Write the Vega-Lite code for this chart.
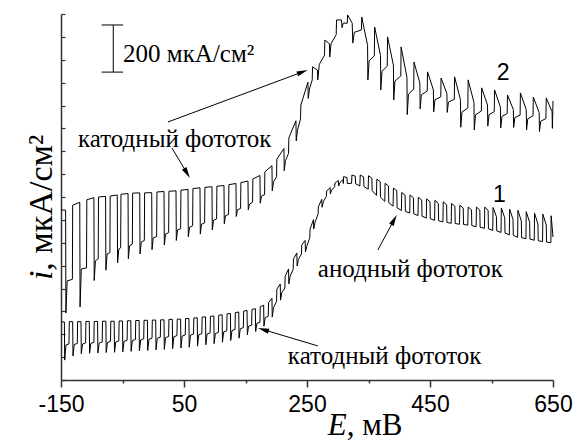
{
"$schema":"https://vega.github.io/schema/vega-lite/v6.json",
"width":492,"height":366,
"autosize":{"type":"none"},
"padding":{"left":61,"top":14,"right":23,"bottom":61},
"background":"white",
"config":{"view":{"stroke":null}},
"datasets":{
"c1":[
{"x":-150,"y":254},{"x":-144.5,"y":254},{"x":-144,"y":87},{"x":-142,"y":153},{"x":-137,"y":158},
{"x":-136.5,"y":255},{"x":-131,"y":255},{"x":-130.5,"y":105},{"x":-128.5,"y":155},{"x":-123.5,"y":160},
{"x":-123,"y":255},{"x":-117.5,"y":255},{"x":-117,"y":115},{"x":-115,"y":157},{"x":-110,"y":162},
{"x":-109.5,"y":256},{"x":-104,"y":256},{"x":-103.5,"y":117},{"x":-101.5,"y":160},{"x":-96.5,"y":165},
{"x":-96,"y":256},{"x":-90.5,"y":256},{"x":-90,"y":118},{"x":-88,"y":161},{"x":-83,"y":166},
{"x":-82.5,"y":257},{"x":-77,"y":257},{"x":-76.5,"y":120},{"x":-74.5,"y":164},{"x":-69.5,"y":169},
{"x":-69,"y":257},{"x":-63.5,"y":257},{"x":-63,"y":121},{"x":-61,"y":166},{"x":-56,"y":171},
{"x":-55.5,"y":258},{"x":-50,"y":258},{"x":-49.5,"y":123},{"x":-47.5,"y":169},{"x":-42.5,"y":174},
{"x":-42,"y":259},{"x":-36.5,"y":259},{"x":-36,"y":125},{"x":-34,"y":172},{"x":-29,"y":177},
{"x":-28.5,"y":260},{"x":-23,"y":260},{"x":-22.5,"y":127},{"x":-20.5,"y":175},{"x":-15.5,"y":180},
{"x":-15,"y":261},{"x":-9.5,"y":261},{"x":-9,"y":129},{"x":-7,"y":178},{"x":-2,"y":183},
{"x":-1.5,"y":262},{"x":4,"y":262},{"x":4.5,"y":132},{"x":6.5,"y":182},{"x":11.5,"y":187},
{"x":12,"y":263},{"x":17.5,"y":263},{"x":18,"y":134},{"x":20,"y":185},{"x":25,"y":190},
{"x":25.5,"y":265},{"x":31,"y":265},{"x":31.5,"y":137},{"x":33.5,"y":189},{"x":38.5,"y":194},
{"x":39,"y":266},{"x":44.5,"y":266},{"x":45,"y":140},{"x":47,"y":192},{"x":52,"y":197},
{"x":52.5,"y":268},{"x":58,"y":269},{"x":58.5,"y":143},{"x":60.5,"y":196},{"x":65.5,"y":201},
{"x":66,"y":271},{"x":71.5,"y":272},{"x":72,"y":148},{"x":74,"y":198},{"x":79,"y":203},
{"x":79.5,"y":275},{"x":85,"y":276},{"x":85.5,"y":154},{"x":87.5,"y":201},{"x":92.5,"y":206},
{"x":93,"y":278},{"x":98.5,"y":280},{"x":99,"y":159},{"x":101,"y":203},{"x":106,"y":208},
{"x":106.5,"y":283},{"x":112,"y":285},{"x":112.5,"y":165},{"x":114.5,"y":210},{"x":119.5,"y":215},
{"x":120,"y":289},{"x":125.5,"y":291},{"x":126,"y":173},{"x":128,"y":216},{"x":133,"y":221},
{"x":133.5,"y":295},{"x":139,"y":297},{"x":139.5,"y":183},{"x":141.5,"y":224},{"x":146.5,"y":229},
{"x":147,"y":301},{"x":152.5,"y":304},{"x":153,"y":198},{"x":155,"y":235},{"x":160,"y":240},
{"x":160.5,"y":308},{"x":166,"y":312},{"x":166.5,"y":212},{"x":168.5,"y":248},{"x":173.5,"y":252},
{"x":174,"y":320},{"x":179.5,"y":327},{"x":180,"y":235},{"x":182,"y":273},{"x":187,"y":279},
{"x":187.5,"y":338},{"x":193,"y":357},{"x":193.5,"y":275},{"x":195.5,"y":316},{"x":200.5,"y":343},
{"x":201,"y":397},{"x":206.5,"y":420},{"x":207,"y":349},{"x":209,"y":382},{"x":214,"y":402},
{"x":214.5,"y":453},{"x":220,"y":485},{"x":220.5,"y":420},{"x":222.5,"y":453},{"x":227.5,"y":484},
{"x":228,"y":530},{"x":233.5,"y":555},{"x":234,"y":498},{"x":236,"y":527},{"x":241,"y":551},
{"x":241.5,"y":590},{"x":247,"y":610},{"x":247.5,"y":560},{"x":249.5,"y":583},{"x":254.5,"y":622},
{"x":255,"y":660},{"x":260.5,"y":701},{"x":261,"y":660},{"x":263,"y":689},{"x":268,"y":725},
{"x":268.5,"y":757},{"x":274,"y":790},{"x":274.5,"y":755},{"x":276.5,"y":779},{"x":281.5,"y":803},
{"x":282,"y":826},{"x":287.5,"y":841},{"x":288,"y":813},{"x":290,"y":830},{"x":295,"y":845},
{"x":295.5,"y":861},{"x":301,"y":872},{"x":301.5,"y":848},{"x":303.5,"y":863},{"x":308.5,"y":876},
{"x":309,"y":859},{"x":309.5,"y":889},{"x":315,"y":885},{"x":315.5,"y":859},
{"x":322.5,"y":860},{"x":323,"y":896},{"x":328.5,"y":891},{"x":329,"y":858},
{"x":336,"y":848},{"x":336.5,"y":896},{"x":342,"y":888},{"x":342.5,"y":846},
{"x":349.5,"y":834},{"x":350,"y":893},{"x":355.5,"y":882},{"x":356,"y":828},
{"x":363,"y":807},{"x":363.5,"y":878},{"x":369,"y":867},{"x":369.5,"y":799},
{"x":376.5,"y":781},{"x":377,"y":860},{"x":382.5,"y":848},{"x":383,"y":775},
{"x":390,"y":760},{"x":390.5,"y":839},{"x":396,"y":827},{"x":396.5,"y":753},
{"x":403.5,"y":741},{"x":404,"y":820},{"x":409.5,"y":808},{"x":410,"y":737},
{"x":417,"y":730},{"x":417.5,"y":809},{"x":423,"y":797},{"x":423.5,"y":727},
{"x":430.5,"y":719},{"x":431,"y":799},{"x":436.5,"y":787},{"x":437,"y":716},
{"x":444,"y":708},{"x":444.5,"y":792},{"x":450,"y":779},{"x":450.5,"y":705},
{"x":457.5,"y":698},{"x":458,"y":785},{"x":463.5,"y":772},{"x":464,"y":696},
{"x":471,"y":691},{"x":471.5,"y":779},{"x":477,"y":766},{"x":477.5,"y":689},
{"x":484.5,"y":685},{"x":485,"y":772},{"x":490.5,"y":759},{"x":491,"y":684},
{"x":498,"y":681},{"x":498.5,"y":764},{"x":504,"y":752},{"x":504.5,"y":680},
{"x":511.5,"y":677},{"x":512,"y":756},{"x":517.5,"y":744},{"x":518,"y":675},
{"x":525,"y":670},{"x":525.5,"y":756},{"x":531,"y":743},{"x":531.5,"y":668},
{"x":538.5,"y":663},{"x":539,"y":756},{"x":544.5,"y":742},{"x":545,"y":661},
{"x":552,"y":654},{"x":552.5,"y":754},{"x":558,"y":714},{"x":558.5,"y":652},
{"x":565.5,"y":645},{"x":566,"y":752},{"x":571.5,"y":709},{"x":572,"y":643},
{"x":579,"y":634},{"x":579.5,"y":747},{"x":585,"y":702},{"x":585.5,"y":632},
{"x":592.5,"y":624},{"x":593,"y":742},{"x":598.5,"y":695},{"x":599,"y":622},
{"x":606,"y":618},{"x":606.5,"y":736},{"x":612,"y":689},{"x":612.5,"y":616},
{"x":619.5,"y":611},{"x":620,"y":729},{"x":625.5,"y":682},{"x":626,"y":609},
{"x":633,"y":605},{"x":633.5,"y":725},{"x":639,"y":678},{"x":639.5,"y":603},
{"x":646.5,"y":600},{"x":647,"y":718},{"x":650,"y":625}
],
"c2":[
{"x":-150,"y":743},{"x":-142.5,"y":743},{"x":-142,"y":293},{"x":-140,"y":433},{"x":-131.5,"y":440},
{"x":-131,"y":764},{"x":-119.5,"y":777},{"x":-119,"y":319},{"x":-117,"y":485},{"x":-108.5,"y":490},
{"x":-108,"y":788},{"x":-96.5,"y":797},{"x":-96,"y":435},{"x":-94,"y":521},{"x":-89.5,"y":530},
{"x":-89,"y":800},{"x":-77.5,"y":803},{"x":-77,"y":480},{"x":-75,"y":551},{"x":-70.5,"y":557},
{"x":-70,"y":804},{"x":-58.5,"y":809},{"x":-58,"y":512},{"x":-56,"y":572},{"x":-53,"y":578},
{"x":-52.5,"y":812},{"x":-41,"y":815},{"x":-40.5,"y":530},{"x":-38.5,"y":587},{"x":-34,"y":594},
{"x":-33.5,"y":817},{"x":-22,"y":818},{"x":-21.5,"y":551},{"x":-19.5,"y":603},{"x":-14.5,"y":610},
{"x":-14,"y":818},{"x":-2.5,"y":819},{"x":-2,"y":570},{"x":0,"y":621},{"x":5.5,"y":627},
{"x":6,"y":822},{"x":17.5,"y":824},{"x":18,"y":590},{"x":20,"y":638},{"x":25,"y":644},
{"x":25.5,"y":825},{"x":37,"y":827},{"x":37.5,"y":610},{"x":39.5,"y":656},{"x":44.5,"y":661},
{"x":45,"y":830},{"x":56.5,"y":833},{"x":57,"y":626},{"x":59,"y":668},{"x":64,"y":674},
{"x":64.5,"y":837},{"x":76,"y":840},{"x":76.5,"y":638},{"x":78.5,"y":681},{"x":83.5,"y":687},
{"x":84,"y":842},{"x":95.5,"y":845},{"x":96,"y":656},{"x":98,"y":698},{"x":103,"y":704},
{"x":103.5,"y":847},{"x":115,"y":850},{"x":115.5,"y":683},{"x":117.5,"y":718},{"x":122.5,"y":724},
{"x":123,"y":854},{"x":134.5,"y":859},{"x":135,"y":715},{"x":137,"y":744},{"x":142,"y":750},
{"x":142.5,"y":863},{"x":154,"y":870},{"x":154.5,"y":744},{"x":156.5,"y":769},{"x":161.5,"y":777},
{"x":162,"y":879},{"x":173.5,"y":894},{"x":174,"y":773},{"x":176,"y":804},{"x":181,"y":810},
{"x":181.5,"y":910},{"x":193,"y":937},{"x":193.5,"y":827},{"x":195.5,"y":866},{"x":200.5,"y":888},
{"x":201,"y":966},{"x":212.5,"y":1012},{"x":213,"y":915},{"x":215,"y":959},{"x":220,"y":991},
{"x":220.5,"y":1059},{"x":232,"y":1133},{"x":232.5,"y":1045},{"x":234.5,"y":1092},{"x":239.5,"y":1142},
{"x":240,"y":1202},{"x":251.5,"y":1302},{"x":252,"y":1231},{"x":254,"y":1272},{"x":258.5,"y":1312},
{"x":259,"y":1369},{"x":267,"y":1355},{"x":267.5,"y":1312},{"x":270,"y":1380},{"x":278.5,"y":1420},
{"x":279,"y":1486},{"x":286.5,"y":1470},{"x":287,"y":1412},{"x":289,"y":1470},{"x":297.5,"y":1510},
{"x":298,"y":1574},{"x":306,"y":1574},{"x":307,"y":1540},{"x":309,"y":1560},{"x":315.5,"y":1560},
{"x":316,"y":1596},{"x":323.5,"y":1560},{"x":324.5,"y":1473},{"x":327,"y":1520},{"x":338.5,"y":1530},
{"x":339,"y":1587},{"x":348.5,"y":1463},{"x":349,"y":1312},{"x":351,"y":1395},{"x":359.5,"y":1417},
{"x":360,"y":1543},{"x":369.5,"y":1419},{"x":370,"y":1268},{"x":372,"y":1350},{"x":380.5,"y":1372},
{"x":381,"y":1500},{"x":390.5,"y":1376},{"x":391,"y":1224},{"x":393,"y":1307},{"x":402.5,"y":1329},
{"x":403,"y":1456},{"x":412.5,"y":1323},{"x":413,"y":1160},{"x":415,"y":1249},{"x":423.5,"y":1272},
{"x":424,"y":1390},{"x":433.5,"y":1298},{"x":434,"y":1185},{"x":436,"y":1247},{"x":445.5,"y":1263},
{"x":446,"y":1347},{"x":455.5,"y":1268},{"x":456,"y":1172},{"x":458,"y":1225},{"x":467.5,"y":1238},
{"x":468,"y":1320},{"x":477.5,"y":1252},{"x":478,"y":1170},{"x":480,"y":1215},{"x":489.5,"y":1227},
{"x":490,"y":1325},{"x":499.5,"y":1226},{"x":500,"y":1105},{"x":502,"y":1171},{"x":511.5,"y":1189},
{"x":512,"y":1312},{"x":521.5,"y":1213},{"x":522,"y":1093},{"x":524,"y":1159},{"x":533.5,"y":1176},
{"x":534,"y":1277},{"x":543.5,"y":1202},{"x":544,"y":1110},{"x":546,"y":1160},{"x":554.5,"y":1173},
{"x":555,"y":1268},{"x":564.5,"y":1193},{"x":565,"y":1102},{"x":567,"y":1152},{"x":575.5,"y":1165},
{"x":576,"y":1246},{"x":585.5,"y":1182},{"x":586,"y":1104},{"x":588,"y":1147},{"x":596.5,"y":1158},
{"x":597,"y":1255},{"x":606.5,"y":1182},{"x":607,"y":1093},{"x":609,"y":1142},{"x":617.5,"y":1155},
{"x":618,"y":1237},{"x":627.5,"y":1169},{"x":628,"y":1086},{"x":630,"y":1131},{"x":638.5,"y":1143},
{"x":639,"y":1233},{"x":648.5,"y":1173},{"x":649,"y":1100},{"x":650,"y":1220}
],
"rules":[
{"x":-65,"y":1346,"x2":-65,"y2":1552},
{"x":-84,"y":1552,"x2":-49,"y2":1552},
{"x":-84,"y":1346,"x2":-49,"y2":1346},
{"x":23.9,"y":1128,"x2":241.2,"y2":1345},
{"x":30.4,"y":1014,"x2":54.1,"y2":908},
{"x":267.6,"y":149,"x2":180.5,"y2":219},
{"x":365.1,"y":568,"x2":390.8,"y2":696}
],
"heads":[
{"x":241.2,"y":1345,"a":69.6},
{"x":54.1,"y":908,"a":149},
{"x":180.5,"y":219,"a":286.7},
{"x":390.8,"y":696,"a":28.5}
],
"notes":[
{"x":-122.4,"y":1019,"t":"катодный фототок"},
{"x":218.9,"y":70,"t":"катодный фототок"},
{"x":267.6,"y":450,"t":"анодный фототок"},
{"x":-49,"y":1390,"t":"200 мкА/см²"}
],
"nums":[
{"x":569,"y":1312,"t":"2"},
{"x":563,"y":780,"t":"1"}
],
"xE":[{"x":283.9,"y":-240,"t":"E"}],
"xU":[{"x":314.5,"y":-240,"t":", мВ"}],
"yI":[{"x":-164.6,"y":437,"t":"i"}],
"yU":[{"x":-164.6,"y":478,"t":", мкА/см²"}]
},
"encoding":{
"x":{"field":"x","type":"quantitative","scale":{"domain":[-150,650],"nice":false,"zero":false},
"axis":{"title":null,"grid":false,"values":[-150,-50,50,150,250,350,450,550,650],
"labelExpr":"abs(datum.value - 50) % 200 == 0 ? '' + datum.value : ''",
"labelFlush":false,"labelFont":"Liberation Sans","labelFontSize":23,"labelColor":"#000","labelPadding":6,
"tickSize":7,"tickWidth":1.5,"tickColor":"#333","domainColor":"#333","domainWidth":1.5,
"tickDash":{"condition":{"test":"abs(datum.value - 50) % 200 != 0","value":[3,20]},"value":[]}}},
"y":{"field":"y","type":"quantitative","scale":{"domain":[0,1600],"nice":false,"zero":false},
"axis":{"title":null,"grid":false,"labels":false,
"values":[0,100,200,300,400,500,600,700,800,900,1000,1100,1200,1300,1400,1500,1600],
"tickSize":-4,"tickWidth":1.2,"tickColor":"#333","domainColor":"#333","domainWidth":1.5}}
},
"layer":[
{"data":{"name":"c1"},"mark":{"type":"line","color":"black","strokeWidth":1},"encoding":{"order":{"value":null}}},
{"data":{"name":"c2"},"mark":{"type":"line","color":"black","strokeWidth":1},"encoding":{"order":{"value":null}}},
{"data":{"name":"rules"},"mark":{"type":"rule","color":"black","strokeWidth":1},"encoding":{"x2":{"field":"x2"},"y2":{"field":"y2"}}},
{"data":{"name":"heads"},"mark":{"type":"point","shape":"M0,-1L0.4,0.7L-0.4,0.7Z","size":170,"filled":true,"color":"black","opacity":1,"strokeWidth":0},"encoding":{"angle":{"field":"a","type":"quantitative","scale":null}}},
{"data":{"name":"notes"},"mark":{"type":"text","font":"Liberation Serif","fontSize":25,"align":"left","baseline":"alphabetic","color":"black"},"encoding":{"text":{"field":"t"}}},
{"data":{"name":"nums"},"mark":{"type":"text","font":"Liberation Sans","fontSize":23,"align":"center","baseline":"alphabetic","color":"black"},"encoding":{"text":{"field":"t"}}},
{"data":{"name":"xE"},"mark":{"type":"text","font":"Liberation Serif","fontSize":31,"fontStyle":"italic","align":"left","baseline":"alphabetic","color":"black"},"encoding":{"text":{"field":"t"}}},
{"data":{"name":"xU"},"mark":{"type":"text","font":"Liberation Serif","fontSize":31,"align":"left","baseline":"alphabetic","color":"black"},"encoding":{"text":{"field":"t"}}},
{"data":{"name":"yI"},"mark":{"type":"text","font":"Liberation Serif","fontSize":34,"fontStyle":"italic","angle":270,"align":"left","baseline":"alphabetic","color":"black"},"encoding":{"text":{"field":"t"}}},
{"data":{"name":"yU"},"mark":{"type":"text","font":"Liberation Serif","fontSize":34,"angle":270,"align":"left","baseline":"alphabetic","color":"black"},"encoding":{"text":{"field":"t"}}}
]
}
